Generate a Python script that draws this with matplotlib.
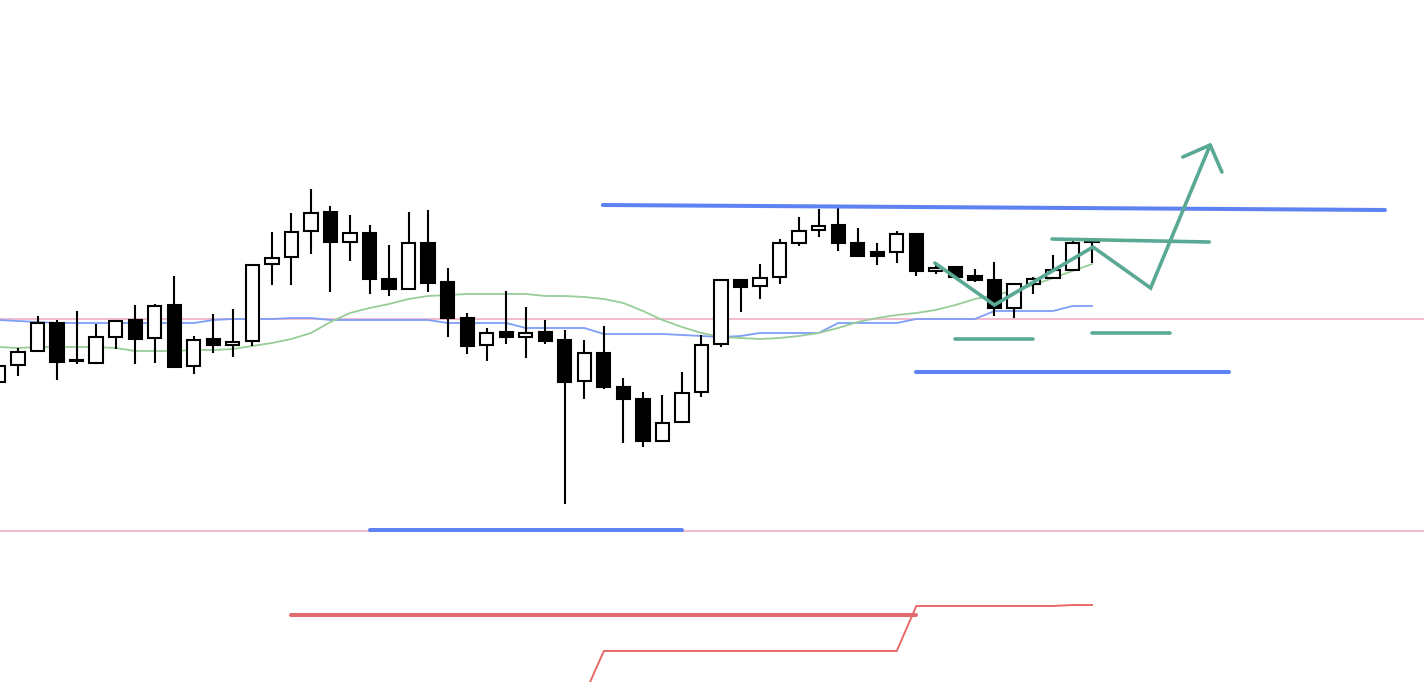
import numpy as np
import matplotlib
matplotlib.use("Agg")
from matplotlib import pyplot as plt

# candle data (arbitrary price units, higher = up)
opens = [300, 317, 331, 359, 321.5, 319, 345, 362, 344, 377, 316, 343, 337, 341, 418, 425, 451, 470, 440,
         449, 403, 393, 439, 400, 364, 337, 350, 345, 350, 342, 301, 329, 295, 283, 241, 260, 290, 338,
         402, 396, 405, 439, 452, 457, 439, 430, 430, 448, 411, 415, 406, 402, 374, 398, 404, 412, 440]
highs = [318, 334, 366, 362, 371, 358, 361, 377, 378, 406, 346, 368, 373, 417, 450, 469, 493, 476, 467,
         457, 437, 470, 472, 414, 369, 354, 391, 375, 362, 352, 342, 356, 304, 290, 287, 310, 347, 402,
         403, 418, 443, 465, 473, 474, 454, 439, 451, 448, 417, 416, 413, 420, 399, 405, 427, 444, 444]
lows = [298, 306, 331, 302, 318, 319, 333, 318, 319, 314, 308, 329, 325, 336, 397, 397, 428, 390, 421,
        388, 386, 393, 390, 345, 328, 321, 338, 324, 338, 178, 283, 293, 239, 235, 241, 260, 285, 335,
        370, 383, 398, 436, 445, 431, 426, 417, 419, 406, 408, 405, 400, 366, 364, 388, 404, 411, 419]
closes = [316, 330, 359, 320, 321, 345, 361, 343, 376, 315, 342, 337, 340, 417, 424, 450, 469, 440, 449,
          403, 393, 439, 399, 364, 336, 349, 345, 349, 341, 300, 329, 295, 283, 241, 259, 289, 337, 402,
          395, 404, 439, 451, 456, 439, 426, 426, 448, 411, 414, 405, 402, 374, 398, 403, 412, 439, 440]

ma_blue = [362, 361, 360, 359, 359, 359, 359, 359, 359, 359, 359, 362, 363, 363, 363, 364, 364, 362, 362,
           362, 362, 362, 362, 359, 359, 359, 359, 354, 354, 354, 354, 348, 348, 348, 348, 347, 346, 345,
           346, 349, 349, 349, 349, 359, 359, 359, 359, 363, 363, 363, 363, 371, 371, 371, 371, 376, 376]
ma_green = [335, 334, 335, 335, 335, 335, 334, 331, 331, 331, 332, 332, 333, 336, 339, 343, 349, 360, 369,
            374, 378, 383, 386, 387, 388, 388, 388, 388, 386, 386, 385, 383, 379, 371, 362, 355, 349, 345,
            344, 343, 344, 346, 349, 354, 360, 364, 367, 369, 372, 377, 383, 387, 391, 397, 404, 411, 418]

# lower red step line, from candle 30 on
red_step_start = 30
red_step = [-13, 31, 31, 31, 31, 31, 31, 31, 31, 31, 31, 31, 31, 31, 31, 31, 31,
            76, 76, 76, 76, 76, 76, 76, 76, 77, 77]

# horizontal levels
pink_levels = [363, 151]
blue_lines = [((30.95, 477), (71.0, 472)), ((47.0, 310), (63.0, 310)), ((19.0, 152), (35.0, 152))]
green_lines = [((53.95, 443), (62.0, 440)), ((49.0, 343), (53.0, 343)), ((56.0, 349), (60.0, 349))]
red_line = ((15.0, 67), (47.0, 67))
# forecast zigzag and arrow head
path_x = [47.95, 51.0, 56.05, 59.0, 62.05]
path_y = [419, 377, 435, 394, 537]
head_x = [60.65, 62.05, 62.65]
head_y = [525, 537, 510]

fig = plt.figure(figsize=(14.24, 6.82), dpi=100)
ax = fig.add_axes([0, 0, 1, 1])
ax.axis('off')

x = np.arange(len(opens))

for lv in pink_levels:
    ax.axhline(lv, color='#f0b6c9', lw=1.3, zorder=1)
ax.plot(x, ma_blue, color='#7f9ef6', lw=1.3, zorder=2)
ax.plot(x, ma_green, color='#98cd98', lw=1.3, zorder=2)
ax.plot(np.arange(red_step_start, red_step_start + len(red_step)), red_step,
        color='#e86a6a', lw=1.4, zorder=2)

# candles
o = np.array(opens); c = np.array(closes)
up = c >= o
ax.vlines(x, lows, highs, color='black', lw=1.5, zorder=3)
bottom = np.minimum(o, c)
height = np.maximum(np.abs(c - o), 0.8)
ax.bar(x, height, bottom=bottom, width=0.68,
       color=np.where(up, 'white', 'black'), edgecolor='black', linewidth=1.5, zorder=4)

# drawn annotations
for (x0, y0), (x1, y1) in blue_lines:
    ax.plot([x0, x1], [y0, y1], color='#5f82f2', lw=2.9, solid_capstyle='round', zorder=5)
for (x0, y0), (x1, y1) in green_lines:
    ax.plot([x0, x1], [y0, y1], color='#5aa995', lw=2.6, solid_capstyle='round', zorder=5)
ax.plot([red_line[0][0], red_line[1][0]], [red_line[0][1], red_line[1][1]],
        color='#e06a6e', lw=2.9, solid_capstyle='round', zorder=5)
ax.plot(path_x, path_y, color='#5aa995', lw=2.6, solid_capstyle='round', solid_joinstyle='miter', zorder=6)
ax.plot(head_x, head_y, color='#5aa995', lw=2.6, solid_capstyle='round', zorder=6)

ax.set_xlim(0.077, 73.0)
ax.set_ylim(0, 682)

fig.savefig('out.png', dpi=100, facecolor='white')
